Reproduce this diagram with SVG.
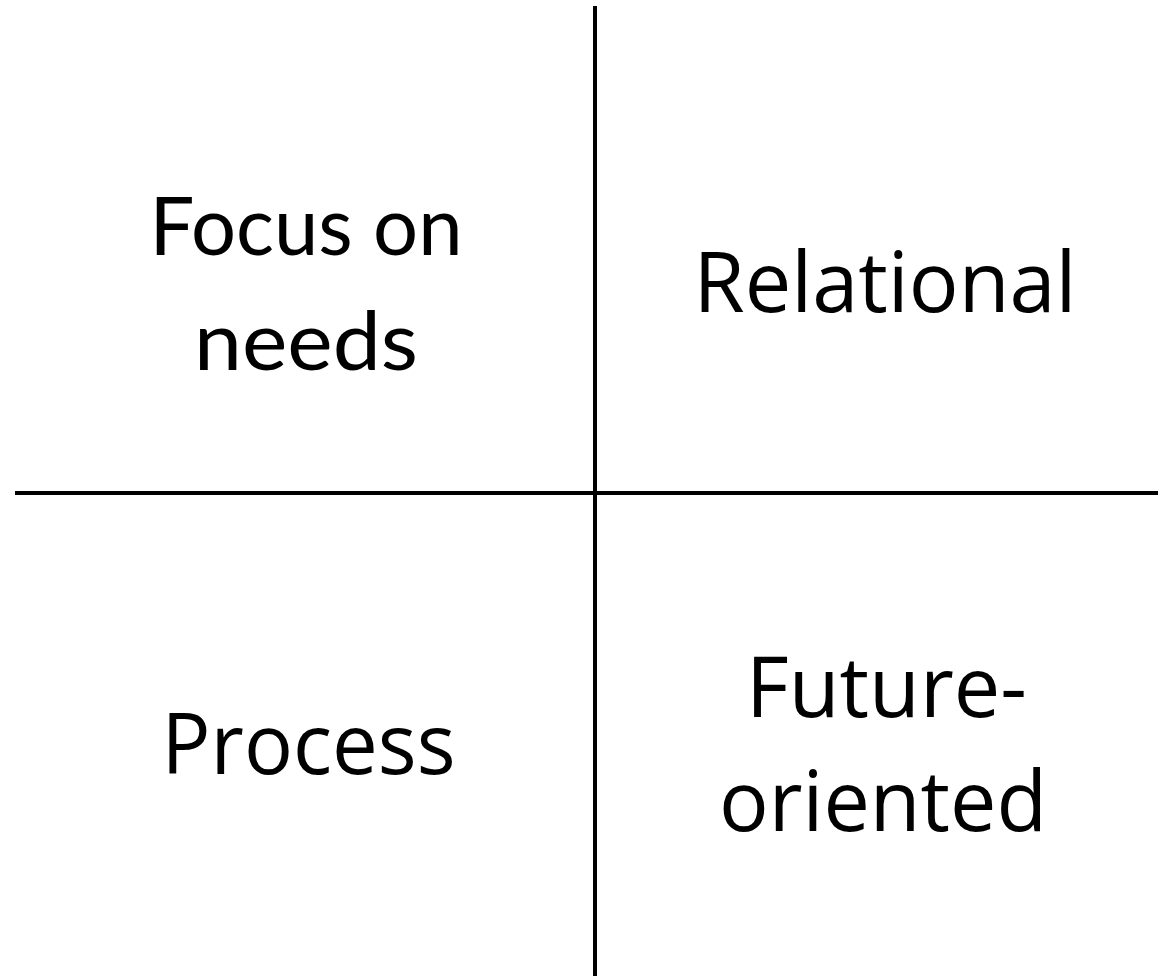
<svg xmlns="http://www.w3.org/2000/svg" width="1158" height="976" viewBox="0 0 1158 976">
  <style>
    .axis { stroke: #000; stroke-width: 4; fill: none; }
    .lbl { fill: #000; text-anchor: middle; font-family: "Open Sans", "Liberation Sans", sans-serif; font-size: 84px; }
    .gill { font-family: Lato, "Open Sans", sans-serif; font-size: 82px; }
  </style>
  <rect width="1158" height="976" fill="#fff"/>
  <g id="connectors">
    <line class="axis" x1="595" y1="6" x2="595" y2="976"/>
    <line class="axis" x1="15" y1="493" x2="1158" y2="493"/>
  </g>
  <g id="focus-on-needs">
    <text class="lbl gill" x="306" y="255" textLength="313" lengthAdjust="spacingAndGlyphs">Focus on</text>
    <text class="lbl gill" x="306" y="370" textLength="224" lengthAdjust="spacingAndGlyphs">needs</text>
  </g>
  <g id="relational">
    <text class="lbl" x="885" y="312" textLength="383" lengthAdjust="spacingAndGlyphs">Relational</text>
  </g>
  <g id="process">
    <text class="lbl" x="308.5" y="774" textLength="294" lengthAdjust="spacingAndGlyphs">Process</text>
  </g>
  <g id="future-oriented">
    <text class="lbl" x="886.5" y="717" textLength="281" lengthAdjust="spacingAndGlyphs">Future-</text>
    <text class="lbl" x="883" y="831" textLength="328" lengthAdjust="spacingAndGlyphs">oriented</text>
  </g>
</svg>
